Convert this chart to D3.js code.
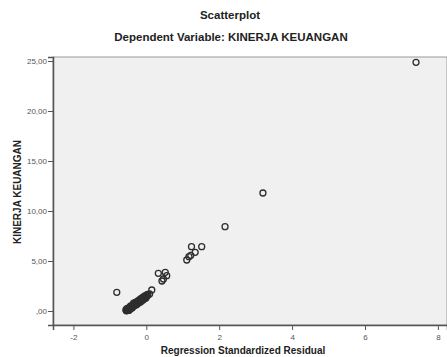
<!DOCTYPE html>
<html>
<head>
<meta charset="utf-8">
<script src="https://cdn.jsdelivr.net/npm/d3@7"></script>
<style>
    body { margin: 0; background: #fff; }
    svg { display: block; font-family: 'Liberation Sans', Arial, sans-serif; }
</style>
</head>
<body>
<svg width="447" height="357"></svg>
<script>
// Regression standardized residual (x) vs KINERJA KEUANGAN (y)
const residual = [
    7.40, 3.20, 2.16, 1.24, 1.52, 1.34, 1.22, 1.17, 1.11,
    0.33, 0.52, 0.56, 0.47, 0.43, 0.15, 0.09, 0.03, -0.81,
    -0.55, -0.53, -0.52, -0.50, -0.49, -0.48, -0.46, -0.45, -0.44, -0.42,
    -0.41, -0.40, -0.38, -0.37, -0.36, -0.34, -0.33, -0.31, -0.30, -0.28,
    -0.27, -0.25, -0.24, -0.22, -0.21, -0.19, -0.18, -0.16, -0.14, -0.13,
    -0.11, -0.09, -0.08, -0.06, -0.04, -0.02, 0.00, 0.02, 0.04,
    -0.56, -0.54, -0.51, -0.47, -0.43, -0.39, -0.35, -0.32, -0.29, -0.26,
    -0.23, -0.20, -0.17, -0.15, -0.12, -0.10, -0.07, -0.05, -0.03, -0.01,
    -0.50, -0.45, -0.40, -0.35, -0.30, -0.25, -0.20, -0.15, -0.10, -0.05,
]
const kinerja = [
    24.87, 11.80, 8.43, 6.43, 6.43, 5.87, 5.57, 5.43, 5.10,
    3.77, 3.87, 3.53, 3.20, 3.00, 2.10, 1.70, 1.65, 1.87,
    0.02, 0.10, 0.05, 0.15, 0.22, 0.12, 0.30, 0.24, 0.38, 0.36,
    0.45, 0.40, 0.55, 0.50, 0.62, 0.58, 0.70, 0.72, 0.66, 0.82,
    0.78, 0.90, 0.86, 0.98, 0.96, 1.05, 1.02, 1.12, 1.16, 1.10,
    1.22, 1.28, 1.24, 1.34, 1.38, 1.40, 1.46, 1.52, 1.58,
    0.12, 0.20, 0.28, 0.08, 0.50, 0.30, 0.78, 0.56, 0.88, 0.64,
    1.02, 0.82, 1.18, 0.92, 1.32, 1.08, 1.44, 1.22, 1.54, 1.30,
    0.06, 0.18, 0.36, 0.48, 0.60, 0.74, 0.88, 1.00, 1.14, 1.26,
]
const xTicks = [-2, 0, 2, 4, 6, 8]
const yTicks = [0, 5, 10, 15, 20, 25]

const svg = d3.select('svg')
const plotLeft = 53
const plotRight = 447
const plotTop = 57
const plotBottom = 325

const xScale = d3.scaleLinear().domain([-2.56, 8.25]).range([plotLeft, plotRight])
const yScale = d3.scaleLinear().domain([-1.4, 25.4]).range([plotBottom, plotTop])

// plot background
svg.append('rect')
    .attr('x', plotLeft)
    .attr('y', plotTop)
    .attr('width', plotRight - plotLeft)
    .attr('height', plotBottom - plotTop)
    .attr('fill', '#f0f0f0')
    .attr('stroke', '#9a9a9a')
    .attr('stroke-width', 1)

const fmtY = (d) => (d === 0 ? ',00' : d3.format('.2f')(d).replace('.', ','))

const xAxis = svg.append('g')
    .attr('transform', `translate(0, ${plotBottom})`)
    .call(d3.axisBottom(xScale).tickValues(xTicks).tickSizeOuter(0).tickSize(5).tickFormat((d) => d))
const yAxis = svg.append('g')
    .attr('transform', `translate(${plotLeft}, 0)`)
    .call(d3.axisLeft(yScale).tickValues(yTicks).tickSizeOuter(0).tickSize(5).tickFormat(fmtY))

;[xAxis, yAxis].forEach((g) => {
    g.select('.domain').attr('stroke', '#555').attr('stroke-width', 1.5)
    g.selectAll('.tick line').attr('stroke', '#555')
    g.selectAll('.tick text')
        .attr('fill', '#555')
        .style('font-size', '8px')
        .style('font-family', "'Liberation Sans', Arial, sans-serif")
})
xAxis.selectAll('.tick text').attr('dy', '0.9em')
yAxis.selectAll('.tick text').attr('x', -6)

// points
svg.append('g')
    .selectAll('circle')
    .data(residual.map((r, i) => ({ x: r, y: kinerja[i] })))
    .join('circle')
    .attr('cx', (d) => xScale(d.x))
    .attr('cy', (d) => yScale(d.y))
    .attr('r', 3)
    .attr('fill', 'none')
    .attr('stroke', '#2e2e2e')
    .attr('stroke-width', 1.3)

// titles
svg.append('text')
    .attr('x', 230)
    .attr('y', 19)
    .attr('text-anchor', 'middle')
    .attr('font-weight', 'bold')
    .attr('font-size', '11.5px')
    .attr('fill', '#222')
    .text('Scatterplot')

svg.append('text')
    .attr('x', 231)
    .attr('y', 41)
    .attr('text-anchor', 'middle')
    .attr('font-weight', 'bold')
    .attr('font-size', '11.5px')
    .attr('fill', '#222')
    .text('Dependent Variable: KINERJA KEUANGAN')

svg.append('text')
    .attr('x', 243)
    .attr('y', 354)
    .attr('text-anchor', 'middle')
    .attr('font-weight', 'bold')
    .attr('font-size', '10px')
    .attr('fill', '#222')
    .text('Regression Standardized Residual')

svg.append('text')
    .attr('transform', `translate(21, 192) rotate(-90)`)
    .attr('text-anchor', 'middle')
    .attr('font-weight', 'bold')
    .attr('font-size', '10px')
    .attr('fill', '#222')
    .text('KINERJA KEUANGAN')
</script>
</body>
</html>
